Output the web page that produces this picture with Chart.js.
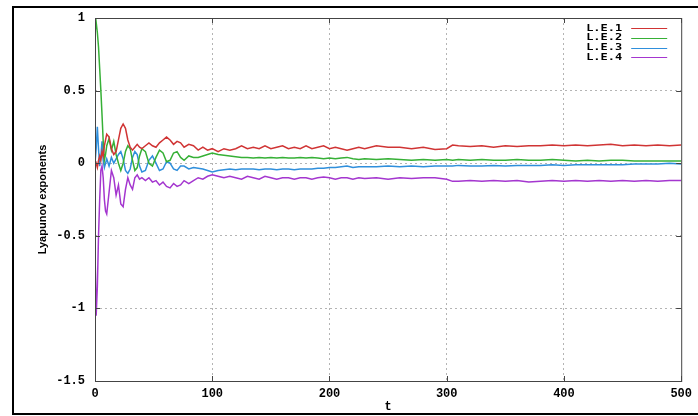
<!DOCTYPE html>
<html lang="en">
<head>
    <meta charset="UTF-8">
    <title>Lyapunov exponents</title>
    <script src="https://cdn.jsdelivr.net/npm/chart.js"></script>
    <style>
        body {
            margin: 0;
            background-color: #ffffff;
        }
        canvas {
            display: block;
        }
    </style>
</head>
<body>
    <canvas id="leChart" width="698" height="416"></canvas>
    <script>
        // time axis (shared by all series)
        const tValues = [
            0, 1, 2, 3, 4, 5, 6, 7, 8, 9,
            10, 12, 14, 16, 18, 20, 22, 24, 26, 28,
            30, 32, 34, 36, 38, 40, 43, 46, 49, 52,
            55, 58, 61, 64, 67, 70, 73, 76, 80, 84,
            88, 92, 96, 100, 105, 110, 115, 120, 125, 130,
            135, 140, 145, 150, 155, 160, 165, 170, 175, 180,
            185, 190, 195, 200, 205, 210, 215, 220, 225, 230,
            240, 250, 260, 270, 280, 290, 300, 305, 310, 320,
            330, 340, 350, 360, 370, 380, 390, 400, 410, 420,
            430, 440, 450, 460, 470, 480, 490, 500
        ];

        const le1 = [
            -0.02, 0.0, -0.03, 0.02, 0.05, 0.02, 0.08, 0.05, 0.12, 0.16,
            0.2, 0.18, 0.1, 0.06, 0.08, 0.16, 0.24, 0.27, 0.24, 0.16,
            0.11, 0.09, 0.11, 0.13, 0.11, 0.1, 0.12, 0.14, 0.12, 0.11,
            0.14, 0.16, 0.18, 0.16, 0.13, 0.15, 0.14, 0.11, 0.13, 0.12,
            0.09, 0.11, 0.09, 0.1, 0.08, 0.1, 0.09, 0.1, 0.12, 0.1,
            0.11, 0.1, 0.12, 0.1, 0.11, 0.12, 0.1, 0.11, 0.1, 0.12,
            0.1, 0.11, 0.12, 0.1, 0.11, 0.1, 0.09, 0.1, 0.11, 0.1,
            0.12, 0.11, 0.11, 0.1, 0.11, 0.095, 0.1, 0.125, 0.12, 0.115,
            0.12, 0.11, 0.12, 0.115, 0.12, 0.12, 0.125, 0.12, 0.125, 0.12,
            0.125, 0.13, 0.12, 0.125, 0.12, 0.125, 0.12, 0.125
        ];

        const le2 = [
            0.9, 0.97, 0.9, 0.8, 0.65, 0.5, 0.33, 0.15, 0.02, 0.06,
            0.12, 0.17, 0.09, 0.15, 0.06, 0.0, -0.05, 0.0, 0.08, 0.12,
            0.1, 0.02, -0.05, -0.03, 0.05, 0.1, 0.08, 0.0, -0.02, 0.04,
            0.09, 0.07, 0.01, 0.02, 0.07, 0.08, 0.04, 0.02, 0.05, 0.04,
            0.04, 0.05, 0.06, 0.07, 0.06, 0.055, 0.05, 0.045, 0.04, 0.04,
            0.035, 0.04, 0.035, 0.04, 0.035, 0.04, 0.035, 0.035, 0.04, 0.035,
            0.04, 0.035, 0.03, 0.035, 0.03, 0.035, 0.04, 0.03, 0.025, 0.03,
            0.025, 0.03, 0.025, 0.02, 0.025, 0.02, 0.025, 0.02, 0.025, 0.02,
            0.025, 0.02, 0.02, 0.025, 0.02, 0.02, 0.025, 0.02, 0.015, 0.02,
            0.015, 0.02, 0.02, 0.015, 0.015, 0.015, 0.015, 0.015
        ];

        const le3 = [
            0.0, 0.1, 0.25, 0.1, -0.02, 0.05, 0.15, 0.02, -0.03, 0.0,
            0.03, -0.02, 0.04, 0.0, 0.03, 0.06, 0.08, 0.03, -0.05, -0.07,
            -0.04, 0.04, 0.08, 0.06, -0.02, -0.06, -0.05, 0.02, 0.05, 0.0,
            -0.05, -0.04, 0.01, 0.0, -0.04, -0.05, -0.02, -0.02, -0.04, -0.03,
            -0.035, -0.04, -0.05, -0.06, -0.05, -0.045, -0.04, -0.045, -0.04, -0.04,
            -0.04, -0.045, -0.04, -0.04, -0.045, -0.04, -0.04, -0.045, -0.04, -0.04,
            -0.04, -0.035, -0.035, -0.03, -0.03, -0.025, -0.02, -0.03, -0.025, -0.025,
            -0.025, -0.02, -0.025, -0.02, -0.025, -0.02, -0.02, -0.02, -0.015, -0.02,
            -0.02, -0.015, -0.02, -0.015, -0.015, -0.015, -0.01, -0.015, -0.01, -0.01,
            -0.01, -0.01, -0.01, -0.005, -0.005, -0.005, 0.0, -0.005
        ];

        const le4 = [
            -0.6, -1.05, -0.85, -0.5, -0.25, -0.05, -0.02, -0.1, -0.25, -0.33,
            -0.35, -0.2, -0.05, -0.1, -0.22, -0.15, -0.28, -0.3, -0.18, -0.1,
            -0.15, -0.18, -0.1, -0.08, -0.11, -0.1, -0.12, -0.1, -0.13, -0.12,
            -0.15, -0.13, -0.16, -0.17, -0.14, -0.16, -0.15, -0.12, -0.14, -0.12,
            -0.1, -0.11, -0.09, -0.08, -0.09, -0.1, -0.09, -0.1, -0.11, -0.09,
            -0.1, -0.11, -0.09, -0.1, -0.11, -0.1, -0.1, -0.11, -0.1, -0.1,
            -0.11, -0.1, -0.095, -0.1, -0.11, -0.1, -0.1, -0.11, -0.1, -0.105,
            -0.1, -0.11, -0.1, -0.105, -0.1, -0.1, -0.11, -0.125, -0.125, -0.12,
            -0.125, -0.12, -0.125, -0.12, -0.13, -0.125, -0.12, -0.125, -0.12, -0.125,
            -0.12, -0.125, -0.12, -0.125, -0.12, -0.125, -0.12, -0.12
        ];

        const seriesLabels = ['L.E.1', 'L.E.2', 'L.E.3', 'L.E.4'];
        const seriesColors = ['#d03434', '#36b036', '#2f8fdc', '#a436cf'];

        const monoFont = "'Liberation Mono', 'DejaVu Sans Mono', monospace";

        function toPoints(values) {
            return tValues.map((t, i) => ({ x: t, y: values[i] }));
        }

        // gnuplot style frame, inner ticks, legend and outer box
        const gnuplotDecor = {
            id: 'gnuplotDecor',
            afterDraw(chart) {
                const ctx = chart.ctx;
                const area = chart.chartArea;
                const xs = chart.scales.x;
                const ys = chart.scales.y;
                ctx.save();

                ctx.strokeStyle = '#444';
                ctx.lineWidth = 1;
                ctx.strokeRect(area.left + 0.5, area.top + 0.5, area.right - area.left, area.bottom - area.top);

                ctx.beginPath();
                xs.ticks.forEach(tk => {
                    const px = Math.round(xs.getPixelForValue(tk.value)) + 0.5;
                    ctx.moveTo(px, area.bottom);
                    ctx.lineTo(px, area.bottom - 5);
                    ctx.moveTo(px, area.top);
                    ctx.lineTo(px, area.top + 5);
                });
                ys.ticks.forEach(tk => {
                    const py = Math.round(ys.getPixelForValue(tk.value)) + 0.5;
                    ctx.moveTo(area.left, py);
                    ctx.lineTo(area.left + 5, py);
                    ctx.moveTo(area.right, py);
                    ctx.lineTo(area.right - 5, py);
                });
                ctx.stroke();

                // legend: text right-aligned, sample line to its right
                chart.data.datasets.forEach((ds, i) => {
                    const y = area.top + 10.3 + i * 9.7;
                    ctx.save();
                    ctx.translate(area.right - 59, y);
                    ctx.scale(1.33, 1);
                    ctx.font = "bold 9px 'DejaVu Sans Mono', monospace";
                    ctx.textAlign = 'right';
                    ctx.textBaseline = 'middle';
                    ctx.fillStyle = '#000';
                    ctx.fillText(ds.label, 0, 0);
                    ctx.restore();
                    ctx.strokeStyle = ds.borderColor;
                    ctx.lineWidth = 1;
                    ctx.beginPath();
                    ctx.moveTo(area.right - 50, Math.round(y) + 0.5);
                    ctx.lineTo(area.right - 14, Math.round(y) + 0.5);
                    ctx.stroke();
                });

                // outer box
                ctx.strokeStyle = '#000';
                ctx.lineWidth = 2;
                ctx.strokeRect(13, 7, 700, 407);
                ctx.restore();
            }
        };

        new Chart(document.getElementById('leChart').getContext('2d'), {
            type: 'line',
            data: {
                datasets: [le1, le2, le3, le4].map((vals, i) => ({
                    label: seriesLabels[i],
                    data: toPoints(vals),
                    borderColor: seriesColors[i],
                    borderWidth: 1.5,
                    pointRadius: 0,
                    tension: 0,
                    fill: false
                }))
            },
            options: {
                responsive: false,
                animation: false,
                devicePixelRatio: 1,
                layout: {
                    padding: { left: 0, top: 18, right: 11, bottom: 0 }
                },
                plugins: {
                    legend: { display: false },
                    tooltip: { enabled: false }
                },
                scales: {
                    x: {
                        type: 'linear',
                        min: 0,
                        max: 500,
                        afterFit: s => { s.height = 35; },
                        border: { display: false, dash: [2, 3] },
                        grid: {
                            drawTicks: false,
                            color: c => (c.tick && (c.tick.value === 0 || c.tick.value === 500)) ? 'rgba(0,0,0,0)' : '#b4b4b4'
                        },
                        ticks: {
                            stepSize: 100,
                            padding: 6,
                            color: '#000',
                            font: { family: monoFont, size: 12, weight: 'bold' }
                        },
                        title: {
                            display: true,
                            text: 't',
                            color: '#000',
                            padding: { top: 0, bottom: 2 },
                            font: { family: monoFont, size: 12, weight: 'bold' }
                        }
                    },
                    y: {
                        min: -1.5,
                        max: 1,
                        afterFit: s => { s.width = 95; },
                        border: { display: false, dash: [2, 3] },
                        grid: {
                            drawTicks: false,
                            color: c => (c.tick && (c.tick.value === -1.5 || c.tick.value === 1)) ? 'rgba(0,0,0,0)' : '#b4b4b4'
                        },
                        ticks: {
                            stepSize: 0.5,
                            padding: 10,
                            color: '#000',
                            font: { family: monoFont, size: 12, weight: 'bold' },
                            callback: v => String(v)
                        },
                        title: {
                            display: true,
                            text: 'Lyapunov exponents',
                            color: '#000',
                            padding: { top: 36, bottom: 0 },
                            font: { family: "'Liberation Sans', Arial, sans-serif", size: 11, weight: 'bold' }
                        }
                    }
                }
            },
            plugins: [gnuplotDecor]
        });
    </script>
</body>
</html>
